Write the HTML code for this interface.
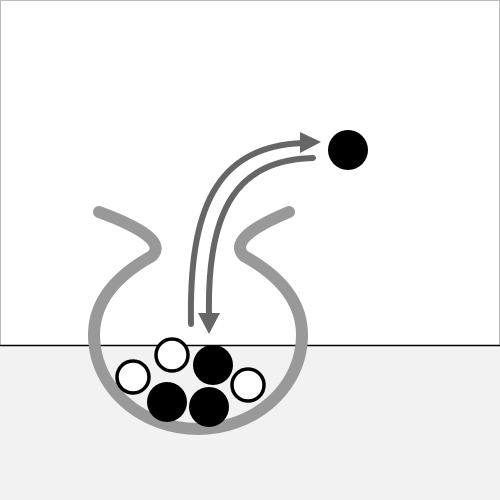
<!DOCTYPE html>
<html><head><meta charset="utf-8"><style>html,body{margin:0;padding:0;background:#fff}svg{display:block}</style></head>
<body>
<svg width="500" height="500" viewBox="0 0 500 500">
  <rect x="0.5" y="0.5" width="499" height="499" fill="#fff" stroke="#bbb"/>
  <rect x="0" y="345" width="500" height="155" fill="#f2f2f2"/>
  <line x1="0" y1="345.5" x2="500" y2="345.5" stroke="#000" stroke-width="1.5"/>
  <path d="M99,212 Q170,238 152,256 Q94,288 94,335 A104,94 0 0 0 302,335 Q302,288 244,256 Q226,238 289,212" fill="none" stroke="#999" stroke-width="12" stroke-linecap="round" stroke-linejoin="round"/>
  <g>
    <circle cx="133" cy="377" r="16" fill="#fff" stroke="#000" stroke-width="3.5"/>
    <circle cx="172" cy="355" r="16" fill="#fff" stroke="#000" stroke-width="3.5"/>
    <circle cx="248" cy="385" r="16" fill="#fff" stroke="#000" stroke-width="3.5"/>
    <circle cx="213" cy="365" r="20" fill="#000"/>
    <circle cx="167" cy="402" r="20" fill="#000"/>
    <circle cx="209" cy="407" r="20" fill="#000"/>
  </g>
  <g>
    <path d="M191,324 C189,210 215,147 302,143" fill="none" stroke="#666" stroke-width="6" stroke-linecap="round"/>
    <polygon points="300,132 321,142 300,153" fill="#666"/>
  </g>
  <g>
    <path d="M313,158 C240,160 207,205 209,314" fill="none" stroke="#666" stroke-width="6" stroke-linecap="round"/>
    <polygon points="198,313 220,313 209,334" fill="#666"/>
  </g>
  <circle cx="348" cy="150" r="20" fill="#000"/>
</svg>
</body></html>
